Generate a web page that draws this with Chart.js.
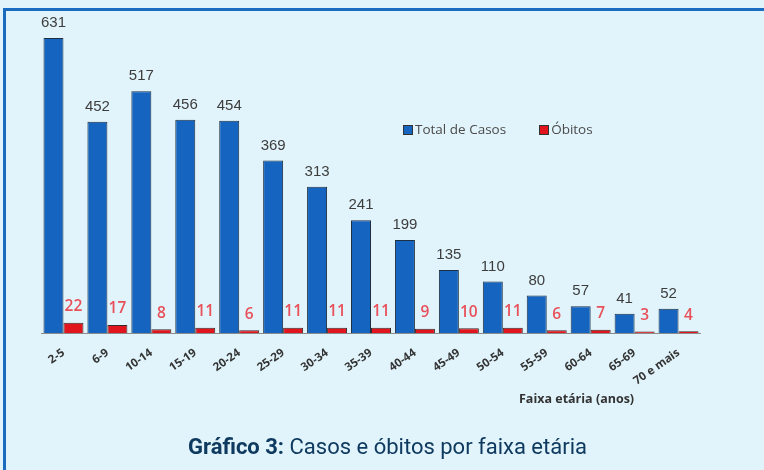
<!DOCTYPE html>
<html lang="pt">
<head>
<meta charset="UTF-8">
<title>Casos e óbitos por faixa etária</title>
<script src="https://cdn.jsdelivr.net/npm/chart.js@4.4.1/dist/chart.umd.min.js"></script>
<style>
    body {
        margin: 0;
        width: 764px;
        height: 470px;
        overflow: hidden;
        background: #E1F4FB;
        position: relative;
        font-family: 'Open Sans', sans-serif;
    }
    .frame {
        position: absolute;
        left: 3px;
        top: 8px;
        width: 800px;
        height: 500px;
        border-left: 3px solid #1A6CC0;
        border-top: 3px solid #1A6CC0;
    }
    .chart-box {
        position: absolute;
        left: 0;
        top: 0;
        width: 764px;
        height: 470px;
    }
    .legend {
        position: absolute;
        left: 403px;
        top: 120px;
        font-size: 13.5px;
        color: #4a4a4a;
        display: flex;
        gap: 33px;
    }
    .legend span.sw {
        display: inline-block;
        width: 8px;
        height: 8px;
        border: 1px solid #333;
        margin-right: 2px;
        vertical-align: -1px;
    }
    .axis-title {
        position: absolute;
        left: 519px;
        top: 390px;
        font-size: 12.5px;
        font-weight: bold;
        color: #333;
    }
    .caption {
        position: absolute;
        left: 0;
        width: 775px;
        top: 434px;
        text-align: center;
        font-family: Roboto, sans-serif;
        font-size: 22px;
        color: #0F3A60;
    }
</style>
</head>
<body>
<div class="frame"></div>
<div class="chart-box"><canvas id="faixaChart"></canvas></div>
<div class="legend">
    <div><span class="sw" style="background:#1565C0"></span>Total de Casos</div>
    <div><span class="sw" style="background:#E0151E"></span>Óbitos</div>
</div>
<div class="axis-title">Faixa etária (anos)</div>
<div class="caption"><b>Gráfico 3:</b> Casos e óbitos por faixa etária</div>

<script>
    const faixas = ['2-5', '6-9', '10-14', '15-19', '20-24', '25-29', '30-34', '35-39',
                    '40-44', '45-49', '50-54', '55-59', '60-64', '65-69', '70 e mais'];
    const totalCasos = [631, 452, 517, 456, 454, 369, 313, 241, 199, 135, 110, 80, 57, 41, 52];
    const obitos = [22, 17, 8, 11, 6, 11, 11, 11, 9, 10, 11, 6, 7, 3, 4];

    // rótulos de valor acima das barras
    const valueLabels = {
        id: 'valueLabels',
        afterDatasetsDraw(chart) {
            const ctx = chart.ctx;
            chart.data.datasets.forEach((ds, i) => {
                const meta = chart.getDatasetMeta(i);
                ctx.save();
                ctx.textAlign = 'center';
                ctx.textBaseline = 'middle';
                if (i === 0) {
                    ctx.font = '15px "Liberation Sans", Arial, sans-serif';
                    ctx.fillStyle = '#3d3d3d';
                } else {
                    ctx.font = '600 15.5px "Open Sans", sans-serif';
                    ctx.fillStyle = '#E8505A';
                }
                meta.data.forEach((bar, j) => {
                    ctx.fillText(ds.data[j], bar.x, bar.y - (i === 0 ? 15 : 16));
                });
                ctx.restore();
            });
        }
    };

    new Chart(document.getElementById('faixaChart'), {
        type: 'bar',
        data: {
            labels: faixas,
            datasets: [{
                label: 'Total de Casos',
                data: totalCasos,
                backgroundColor: '#1565C0',
                borderColor: '#1f2f42',
                borderWidth: 1
            }, {
                label: 'Óbitos',
                data: obitos,
                backgroundColor: '#E0151E',
                borderColor: '#3a2a2a',
                borderWidth: 1
            }]
        },
        options: {
            responsive: true,
            maintainAspectRatio: false,
            animation: false,
            layout: {
                padding: { left: 41.5, right: 63.5, top: 5.75, bottom: 0 }
            },
            datasets: {
                bar: { categoryPercentage: 0.91, barPercentage: 1 }
            },
            plugins: {
                legend: { display: false },
                tooltip: { enabled: false }
            },
            scales: {
                x: {
                    grid: { display: false },
                    border: { display: true, color: '#8c8c8c', width: 1 },
                    ticks: {
                        minRotation: 35,
                        maxRotation: 35,
                        padding: 5,
                        color: '#333',
                        font: { family: 'Open Sans', size: 11.5, weight: 'bold' }
                    },
                    afterFit(scale) {
                        scale.height = 137;
                    }
                },
                y: {
                    display: false,
                    min: 0,
                    max: 700
                }
            }
        },
        plugins: [valueLabels]
    });
</script>
</body>
</html>
